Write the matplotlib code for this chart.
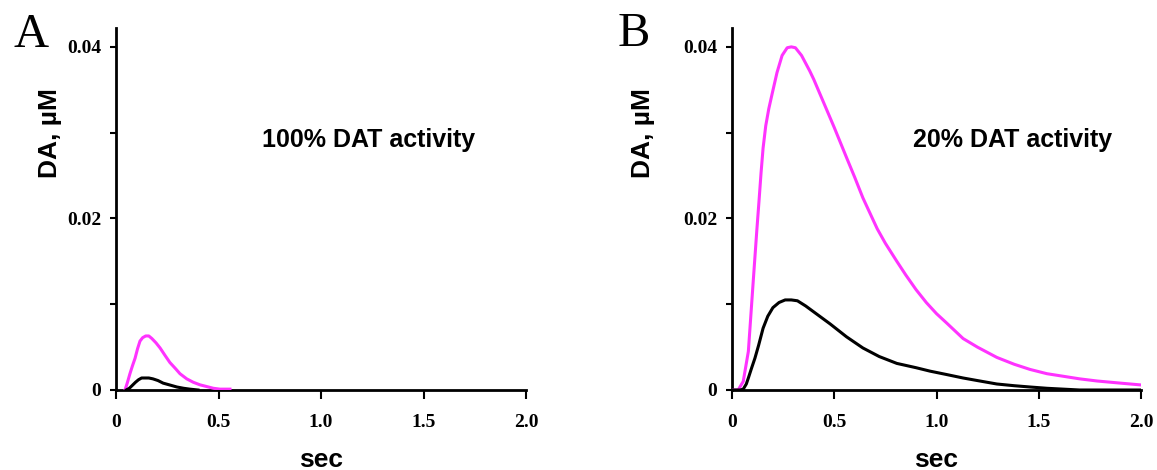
import matplotlib
matplotlib.use("Agg")
import matplotlib.pyplot as plt

# ---- data ----
# Panel A: 100% DAT activity
tA_mag = [0.044, 0.056, 0.068, 0.08, 0.093, 0.105, 0.117, 0.13, 0.145, 0.16, 0.175, 0.195, 0.215, 0.24,
          0.263, 0.29, 0.312, 0.345, 0.377, 0.41, 0.443, 0.475, 0.507, 0.556]
yA_mag = [0.0, 0.0009, 0.0019, 0.0028, 0.0037, 0.0048, 0.0057, 0.0061, 0.0063, 0.0063, 0.0060, 0.0055, 0.0049, 0.0040,
          0.0032, 0.0025, 0.0019, 0.0013, 0.0009, 0.0006, 0.0004, 0.0002, 0.0001, 0.0001]
tA_blk = [0.05, 0.065, 0.078, 0.095, 0.11, 0.125, 0.16, 0.18, 0.205, 0.23, 0.26, 0.297, 0.33, 0.36, 0.40]
yA_blk = [0.0, 0.0002, 0.0005, 0.0009, 0.0012, 0.0014, 0.0014, 0.0013, 0.0011, 0.0008, 0.0006, 0.00035, 0.0002,
          0.0001, 0.0]

# Panel B: 20% DAT activity
tB_mag = [0.0, 0.03, 0.055, 0.08, 0.103, 0.121, 0.132, 0.142, 0.152, 0.165, 0.18, 0.196, 0.22, 0.245, 0.27,
          0.29, 0.31, 0.34, 0.38, 0.40, 0.45, 0.50, 0.56, 0.60, 0.64, 0.71, 0.75, 0.806, 0.85, 0.90, 0.95,
          1.0, 1.05, 1.13, 1.20, 1.295, 1.38, 1.457, 1.54, 1.62, 1.70, 1.785, 1.90, 1.995]
yB_mag = [0.0, 0.0, 0.001, 0.0045, 0.0124, 0.0185, 0.022, 0.0253, 0.0282, 0.0308, 0.0328, 0.0345, 0.0370, 0.0390,
          0.0399, 0.0400, 0.0399, 0.0390, 0.0372, 0.0362, 0.0334, 0.0306, 0.0271, 0.0248, 0.0224, 0.0188, 0.0171,
          0.0150, 0.0134, 0.0117, 0.0102, 0.0089, 0.0078, 0.0060, 0.0050, 0.0038, 0.0030, 0.0024, 0.0019, 0.0016,
          0.0013, 0.00105, 0.0008, 0.0006]
tB_blk = [0.0, 0.04, 0.055, 0.07, 0.08, 0.095, 0.112, 0.13, 0.152, 0.175, 0.20, 0.23, 0.26, 0.29, 0.32, 0.36,
          0.40, 0.48, 0.56, 0.64, 0.72, 0.806, 0.90, 0.968, 1.05, 1.13, 1.20, 1.295, 1.38, 1.457, 1.54, 1.62,
          1.70, 2.0]
yB_blk = [0.0, 0.0, 0.0001, 0.0007, 0.0014, 0.0025, 0.0037, 0.0052, 0.0072, 0.0086, 0.0096, 0.0102, 0.0105,
          0.0105, 0.0104, 0.0098, 0.0091, 0.0077, 0.0062, 0.0049, 0.0039, 0.0031, 0.0026, 0.0022, 0.0018, 0.0014,
          0.0011, 0.0007, 0.0005, 0.00035, 0.0002, 0.0001, 0.0, 0.0]

xticks = [0, 0.5, 1.0, 1.5, 2.0]
xticklabels = ["0", "0.5", "1.0", "1.5", "2.0"]
yticks = [0, 0.01, 0.02, 0.03, 0.04]
yticklabels = ["0", "", "0.02", "", "0.04"]

panels = [
    ("A", "100% DAT activity", tA_mag, yA_mag, tA_blk, yA_blk, 0.712, -0.132),
    ("B", "20% DAT activity", tB_mag, yB_mag, tB_blk, yB_blk, 0.885, -0.188),
]

W, H = 1157, 470
fig = plt.figure(figsize=(W / 100, H / 100), dpi=100)

serif = "Liberation Serif"
sans = "Liberation Sans"
MAG = "#ff33ff"

lefts = [116 / W, 732 / W]
widths = [410 / W, 409 / W]
bottom = 1 - 390 / H
height = (390 - 28) / H

for i, (letter, note, tm, ym, tb, yb, notex, ylabx) in enumerate(panels):
    ax = fig.add_axes([lefts[i], bottom, widths[i], height])
    ax.plot(tm, ym, color=MAG, lw=2.2, zorder=3, solid_joinstyle="round")
    ax.plot(tb, yb, color="black", lw=2.2, zorder=3, solid_joinstyle="round")
    ax.set_xlim(0, 2.0)
    ax.set_ylim(0, 0.0422)
    for s in ["top", "right"]:
        ax.spines[s].set_visible(False)
    for s in ["left", "bottom"]:
        ax.spines[s].set_linewidth(2.0)
    ax.set_xticks(xticks)
    ax.set_xticklabels(xticklabels, fontfamily=serif, fontweight="bold", fontsize=14)
    ax.set_yticks(yticks)
    ax.set_yticklabels(yticklabels, fontfamily=serif, fontweight="bold", fontsize=14)
    ax.tick_params(axis="x", direction="out", length=6.5, width=1.5, pad=11)
    ax.tick_params(axis="y", direction="out", length=4.5, width=1.5, pad=6)
    ax.set_xlabel("sec", fontfamily=sans, fontweight="bold", fontsize=19, labelpad=12)
    ax.set_ylabel("DA, µM", fontfamily=sans, fontweight="bold", fontsize=19)
    ax.yaxis.set_label_coords(ylabx, 0.71)
    ax.text(notex, 0.02834, note, fontfamily=sans, fontweight="bold", fontsize=18,
            ha="left", va="baseline")

fig.text(13 / W, 1 - 47 / H, "A", fontfamily=serif, fontsize=35, ha="left", va="baseline")
fig.text(618 / W, 1 - 46 / H, "B", fontfamily=serif, fontsize=35, ha="left", va="baseline")

fig.savefig("out.png", dpi=100)
